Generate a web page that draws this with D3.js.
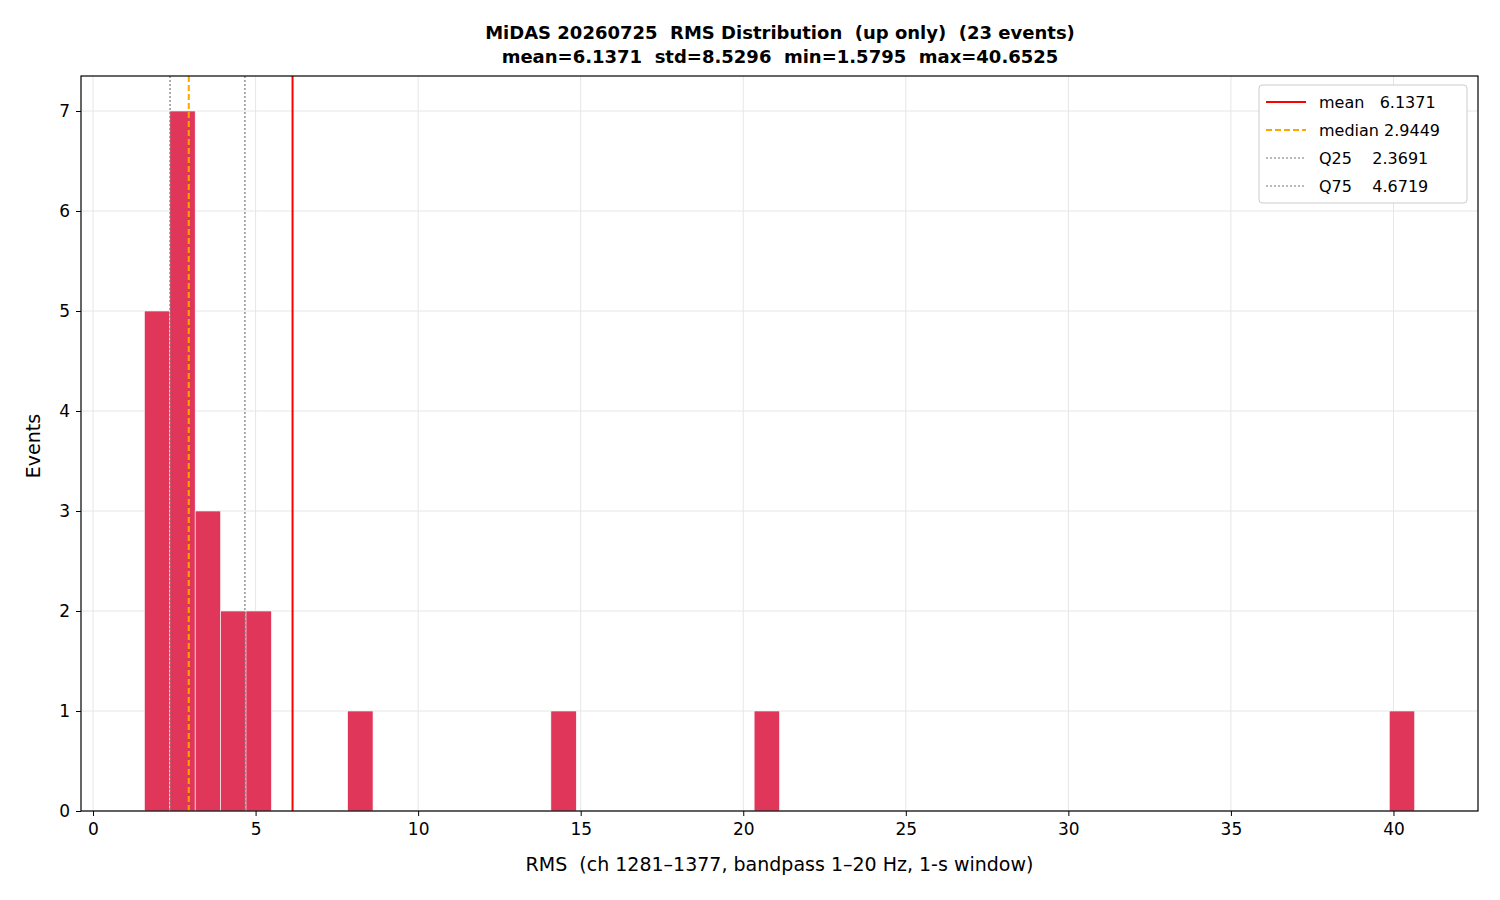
<!DOCTYPE html>
<html><head><meta charset="utf-8">
<script src="https://cdn.jsdelivr.net/npm/d3@7"></script>
<style>body{margin:0;background:#fff;font-family:"DejaVu Sans",sans-serif} text{white-space:pre}</style>
</head><body><svg id="chart" width="1500" height="900"></svg>
<script>
// histogram: 50 bins between min and max
const binMin = 1.5795, binMax = 40.6525;
const binCounts = [5,7,3,2,2,0,0,0,1,0, 0,0,0,0,0,0,1,0,0,0, 0,0,0,0,1,0,0,0,0,0, 0,0,0,0,0,0,0,0,0,0, 0,0,0,0,0,0,0,0,0,1];
const xTicks = [0,5,10,15,20,25,30,35,40];
const yTicks = [0,1,2,3,4,5,6,7];
const refLines = [
  {name:"mean", label:"mean   6.1371", value:6.1371, color:"red", dash:null, width:2},
  {name:"median", label:"median 2.9449", value:2.9449, color:"orange", dash:"6,3", width:2},
  {name:"Q25", label:"Q25    2.3691", value:2.3691, color:"#777", dash:"2,2", width:1.2},
  {name:"Q75", label:"Q75    4.6719", value:4.6719, color:"#777", dash:"2,2", width:1.2}
];

const svg = d3.select("#chart");
const m = {l:81, r:1478, t:76, b:811};
const x = d3.scaleLinear().domain([-0.37, 42.6]).range([m.l, m.r]);
const y = d3.scaleLinear().domain([0, 7.35]).range([m.b, m.t]);

// grid
svg.append("g").selectAll("line").data(xTicks).join("line")
  .attr("x1", d => x(d)).attr("x2", d => x(d)).attr("y1", m.t).attr("y2", m.b)
  .attr("stroke", "#e6e6e6");
svg.append("g").selectAll("line").data(yTicks).join("line")
  .attr("x1", m.l).attr("x2", m.r).attr("y1", d => y(d)).attr("y2", d => y(d))
  .attr("stroke", "#e6e6e6");

// bars
const bw = (binMax - binMin) / binCounts.length;
svg.append("g").selectAll("rect").data(binCounts.map((c, i) => ({c, x0: binMin + i * bw})).filter(d => d.c > 0))
  .join("rect")
  .attr("x", d => x(d.x0)).attr("width", d => x(d.x0 + bw) - x(d.x0))
  .attr("y", d => y(d.c)).attr("height", d => y(0) - y(d.c))
  .attr("fill", "#e0365a").attr("stroke", "#fff").attr("stroke-width", 0.6);

// reference lines
svg.append("g").selectAll("line").data(refLines).join("line")
  .attr("x1", d => x(d.value)).attr("x2", d => x(d.value)).attr("y1", m.t).attr("y2", m.b)
  .attr("stroke", d => d.color).attr("stroke-width", d => d.width)
  .attr("stroke-dasharray", d => d.dash);

// axes
const xa = svg.append("g").attr("transform", `translate(0,${m.b})`)
  .call(d3.axisBottom(x).tickValues(xTicks).tickSize(5).tickPadding(7));
const ya = svg.append("g").attr("transform", `translate(${m.l},0)`)
  .call(d3.axisLeft(y).tickValues(yTicks).tickSize(5).tickPadding(6));
[xa, ya].forEach(a => {
  a.selectAll("text").attr("font-size", 17).attr("font-family", "DejaVu Sans").attr("fill", "#000");
  a.select(".domain").remove();
});
svg.append("rect").attr("x", m.l).attr("y", m.t).attr("width", m.r - m.l).attr("height", m.b - m.t)
  .attr("fill", "none").attr("stroke", "#000").attr("stroke-width", 1.2);

// labels
svg.append("text").attr("x", (m.l + m.r) / 2).attr("y", 871).attr("text-anchor", "middle")
  .attr("font-size", 19).text("RMS  (ch 1281–1377, bandpass 1–20 Hz, 1-s window)");
svg.append("text").attr("transform", "translate(40,446) rotate(-90)").attr("text-anchor", "middle")
  .attr("font-size", 19).text("Events");
svg.append("text").attr("x", 780).attr("y", 39).attr("text-anchor", "middle").attr("font-weight", "bold")
  .attr("font-size", 18).text("MiDAS 20260725  RMS Distribution  (up only)  (23 events)");
svg.append("text").attr("x", 780).attr("y", 63).attr("text-anchor", "middle").attr("font-weight", "bold")
  .attr("font-size", 18).text("mean=6.1371  std=8.5296  min=1.5795  max=40.6525");

// legend
const lg = svg.append("g").attr("transform", "translate(1259,85)");
lg.append("rect").attr("width", 208).attr("height", 118).attr("rx", 3)
  .attr("fill", "#fff").attr("stroke", "#ccc");
const li = lg.selectAll("g").data(refLines).join("g").attr("transform", (d, i) => `translate(0,${17 + i * 28})`);
li.append("line").attr("x1", 7).attr("x2", 47)
  .attr("stroke", d => d.color).attr("stroke-width", d => d.width).attr("stroke-dasharray", d => d.dash);
li.append("text").attr("x", 60).attr("y", 6).attr("font-size", 16).text(d => d.label);
</script></body></html>
